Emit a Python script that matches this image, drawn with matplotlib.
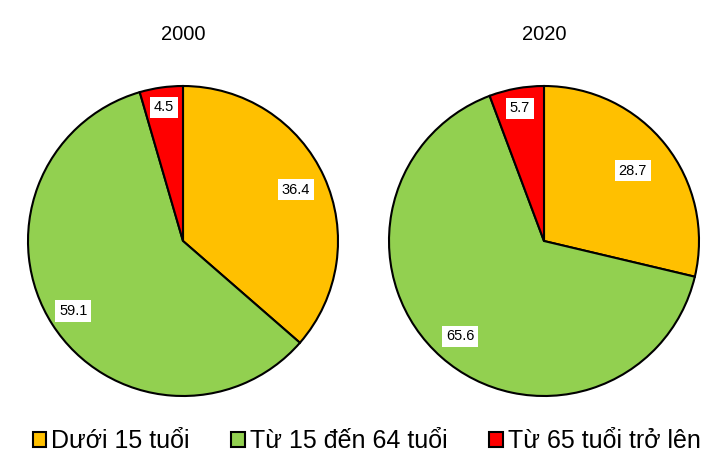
import matplotlib
matplotlib.use("Agg")
import matplotlib.pyplot as plt
import numpy as np
from matplotlib.patches import Patch

plt.rcParams['font.family'] = ['Liberation Sans', 'DejaVu Sans']

categories = ["Dưới 15 tuổi", "Từ 15 đến 64 tuổi", "Từ 65 tuổi trở lên"]
years = ["2000", "2020"]
values_2000 = [36.4, 59.1, 4.5]
values_2020 = [28.7, 65.6, 5.7]
colors = ["#FFC000", "#92D050", "#FF0000"]
label_dist = {"2000": [0.80, 0.84, 0.87], "2020": [0.73, 0.82, 0.87]}

fig = plt.figure(figsize=(7.15, 4.61), dpi=100)
W, H = 715, 461
R = 155
centers = [(183, 241), (544, 241)]

for (cx, cy), year, vals in zip(centers, years, [values_2000, values_2020]):
    ax = fig.add_axes([(cx - R) / W, (H - cy - R) / H, 2 * R / W, 2 * R / H])
    wedges, _ = ax.pie(vals, colors=colors, startangle=90, counterclock=False,
                       wedgeprops=dict(edgecolor="black", linewidth=1.5), radius=1)
    total = sum(vals)
    cum = 0
    for v, d in zip(vals, label_dist[year]):
        mid = 90 - 360 * (cum + v / 2) / total
        cum += v
        ax.text(d * np.cos(np.radians(mid)), d * np.sin(np.radians(mid)), f"{v}",
                ha="center", va="center", fontsize=10.5,
                bbox=dict(boxstyle="square,pad=0.25", fc="white", ec="none"))
    ax.set_xlim(-1.0, 1.0)
    ax.set_ylim(-1.0, 1.0)
    ax.set_aspect("equal")
    fig.text(cx / W, (H - 34) / H, year, ha="center", va="center", fontsize=14.5)

handles = [Patch(facecolor=c, edgecolor="black", linewidth=1.5) for c in colors]
fig.legend(handles, categories, loc="center", bbox_to_anchor=(0.5 + 9 / W, (H - 441) / H),
           ncol=3, frameon=False, fontsize=18, handlelength=0.55, handleheight=0.55,
           handletextpad=0.2, columnspacing=1.65, borderpad=0, borderaxespad=0)

fig.savefig("out.png", dpi=100)
